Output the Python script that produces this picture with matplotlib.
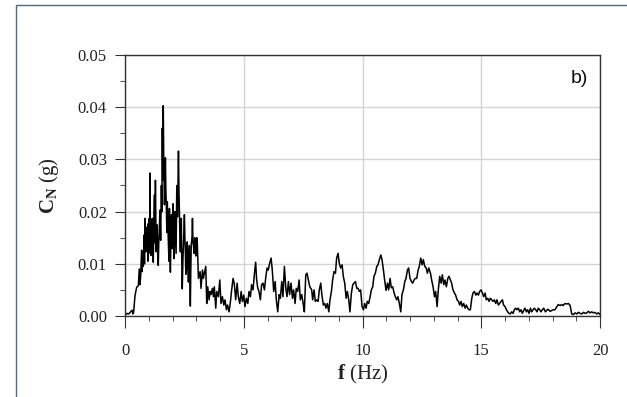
import matplotlib
matplotlib.use('Agg')
import matplotlib.pyplot as plt
import numpy as np
from matplotlib.ticker import MultipleLocator, FormatStrFormatter
from matplotlib.patches import Rectangle

plt.rcParams['font.family'] = 'Liberation Serif'
plt.rcParams['mathtext.fontset'] = 'custom'
plt.rcParams['mathtext.rm'] = 'Liberation Serif'
plt.rcParams['mathtext.bf'] = 'Liberation Serif:bold'
plt.rcParams['mathtext.it'] = 'Liberation Serif:italic'

# frequency (Hz) and Fourier amplitude (milli-g)
freq_hz = [
    0.00, 0.10, 0.15, 0.20, 0.25, 0.30, 0.33, 0.36, 0.42, 0.49,
    0.56, 0.60, 0.63, 0.66, 0.68, 0.70, 0.72, 0.74, 0.77, 0.80,
    0.82, 0.84, 0.86, 0.88, 0.91, 0.94, 0.96, 0.98, 1.00, 1.02,
    1.04, 1.05, 1.07, 1.09, 1.12, 1.15, 1.17, 1.19, 1.21, 1.24,
    1.26, 1.28, 1.30, 1.31, 1.34, 1.36, 1.38, 1.40, 1.42, 1.45,
    1.47, 1.50, 1.53, 1.55, 1.57, 1.59, 1.61, 1.63, 1.66, 1.68,
    1.70, 1.72, 1.74, 1.76, 1.78, 1.80, 1.82, 1.85, 1.87, 1.89,
    1.91, 1.93, 1.95, 1.97, 1.99, 2.02, 2.04, 2.06, 2.08, 2.10,
    2.12, 2.15, 2.18, 2.21, 2.25, 2.27, 2.29, 2.31, 2.33, 2.35,
    2.37, 2.39, 2.41, 2.44, 2.46, 2.48, 2.50, 2.52, 2.54, 2.56,
    2.58, 2.60, 2.62, 2.64, 2.67, 2.69, 2.71, 2.73, 2.75, 2.77,
    2.79, 2.82, 2.84, 2.86, 2.88, 2.91, 2.93, 2.95, 2.98, 3.00,
    3.02, 3.04, 3.06, 3.09, 3.16,
    3.20, 3.26, 3.30, 3.34, 3.40, 3.44, 3.48, 3.54, 3.58, 3.62,
    3.68, 3.72, 3.76, 3.82, 3.86, 3.93, 3.99, 4.04, 4.10, 4.16,
    4.21, 4.27, 4.32, 4.38, 4.43, 4.49, 4.55, 4.60, 4.66, 4.72,
    4.77, 4.83, 4.89, 4.94, 5.00, 5.05, 5.11, 5.17, 5.22, 5.28,
    5.33, 5.39, 5.45, 5.50, 5.54, 5.59, 5.64, 5.70, 5.75, 5.81,
    5.87, 5.92, 5.98, 6.03, 6.09, 6.15, 6.20, 6.26, 6.32, 6.37,
    6.43, 6.49, 6.54, 6.60, 6.65, 6.71, 6.77, 6.82, 6.88, 6.93,
    6.99, 7.05, 7.10, 7.16, 7.21, 7.27, 7.33, 7.38, 7.44, 7.50,
    7.55, 7.61, 7.66, 7.72, 7.78, 7.86, 7.90, 7.96, 8.01, 8.07,
    8.13, 8.18, 8.24, 8.29, 8.35, 8.41, 8.46, 8.52, 8.58, 8.63,
    8.69, 8.74, 8.80, 8.86, 8.91, 8.97, 9.02, 9.08, 9.14, 9.19,
    9.25, 9.31, 9.36, 9.42, 9.47, 9.53, 9.59, 9.64, 9.70, 9.76,
    9.81, 9.87, 9.92, 9.98, 10.04, 10.09, 10.15, 10.20, 10.26, 10.32,
    10.37, 10.43, 10.48, 10.54, 10.60, 10.65, 10.71, 10.77, 10.82, 10.88,
    10.93, 10.99, 11.05, 11.10, 11.16, 11.21, 11.27, 11.33, 11.38, 11.44,
    11.49, 11.55, 11.61, 11.66, 11.72, 11.78, 11.83, 11.89, 11.94, 12.00,
    12.06, 12.11, 12.17, 12.22, 12.28, 12.34, 12.39, 12.45, 12.51, 12.56,
    12.62, 12.68, 12.73, 12.79, 12.86, 12.91, 12.97, 13.03, 13.08, 13.14,
    13.19, 13.25, 13.31, 13.36, 13.42, 13.47, 13.53, 13.59, 13.64, 13.70,
    13.75, 13.81, 13.87, 13.92, 13.98, 14.04, 14.09, 14.15, 14.20, 14.26,
    14.32, 14.37, 14.43, 14.48, 14.54, 14.60, 14.65, 14.71, 14.77, 14.82,
    14.88, 14.93, 14.99, 15.05, 15.10, 15.16, 15.21, 15.27, 15.33, 15.38,
    15.44, 15.49, 15.55, 15.61, 15.66, 15.72, 15.77, 15.83, 15.89, 15.94,
    16.00, 16.06, 16.11, 16.17, 16.22, 16.28, 16.34, 16.39, 16.45, 16.50,
    16.56, 16.62, 16.67, 16.73, 16.78, 16.84, 16.90, 16.95, 17.01, 17.07,
    17.12, 17.18, 17.23, 17.29, 17.35, 17.40, 17.46, 17.51, 17.57, 17.63,
    17.70, 17.80, 17.90, 18.03, 18.10, 18.17, 18.24, 18.32, 18.38, 18.45,
    18.52, 18.60, 18.67, 18.74, 18.81, 18.88, 18.95, 19.02, 19.09, 19.16,
    19.23, 19.30, 19.37, 19.44, 19.51, 19.58, 19.65, 19.72, 19.79, 19.86,
    19.93, 20.00,
]
amp_mg = [
    0.2, 0.5, 0.4, 0.6, 0.9, 1.1, 0.4, 0.6, 3.9, 5.5,
    5.8, 9.0, 6.0, 7.7, 10.5, 12.6, 8.5, 11.0, 9.5, 15.5,
    10.0, 18.7, 14.0, 12.3, 17.0, 16.0, 10.5, 17.7, 12.0, 18.7,
    13.0, 27.4, 15.0, 11.6, 16.5, 18.7, 12.0, 10.3, 17.0, 23.2,
    14.0, 26.0, 18.0, 12.3, 17.5, 15.5, 11.0, 9.7, 14.0, 17.4,
    20.3, 14.5, 25.0, 20.0, 36.0, 26.0, 40.3, 30.0, 21.3, 25.0,
    30.3, 24.0, 21.3, 16.0, 21.9, 18.0, 14.8, 10.5, 20.6, 13.0,
    8.4, 14.0, 19.4, 16.0, 12.9, 21.5, 18.7, 11.0, 14.0, 20.0,
    17.0, 12.0, 25.0, 19.0, 31.6, 24.0, 20.0, 15.0, 12.3, 16.0,
    18.7, 10.0, 5.2, 11.0, 13.5, 16.5, 19.4, 15.0, 12.3, 8.0,
    11.6, 9.0, 14.2, 10.0, 6.5, 10.0, 13.5, 8.0, 1.9, 9.0,
    13.9, 15.0, 18.7, 14.0, 13.5, 12.0, 15.0, 14.8, 11.5, 12.5,
    15.0, 14.5, 11.4, 7.2, 8.5,
    5.3, 8.8, 7.2, 8.2, 9.5, 2.4, 5.6, 3.1, 4.7, 4.1,
    5.3, 3.7, 5.6, 1.5, 4.7, 3.7, 6.9, 2.4, 3.7, 2.1,
    3.1, 1.2, 2.1, 0.8, 2.4, 5.0, 7.2, 6.2, 3.1, 6.3,
    3.7, 2.4, 4.7, 2.8, 4.0, 1.8, 3.4, 2.4, 4.7, 3.7,
    6.0, 5.0, 8.2, 10.3, 7.0, 5.3, 4.7, 3.1, 6.0, 6.3,
    5.0, 7.2, 9.2, 8.8, 10.1, 11.1, 8.8, 4.7, 6.6, 3.1,
    0.8, 4.1, 3.4, 6.6, 3.7, 9.5, 5.3, 3.7, 6.6, 4.1,
    6.3, 3.4, 5.0, 2.4, 5.3, 4.7, 6.9, 3.1, 4.1, 2.4,
    0.8, 7.9, 8.2, 6.9, 5.6, 5.0, 3.1, 5.0, 2.8, 3.1,
    2.8, 5.0, 6.3, 4.0, 2.1, 2.4, 1.5, 2.4, 0.8, 3.1,
    4.7, 6.9, 8.5, 8.2, 11.1, 12.0, 10.1, 9.2, 9.8, 7.6,
    6.3, 3.4, 4.7, 3.1, 0.8, 4.4, 6.0, 6.3, 6.6, 5.3,
    5.3, 4.7, 5.0, 1.8, 1.2, 2.4, 1.5, 2.8, 2.4, 3.7,
    5.0, 5.6, 7.6, 8.2, 9.5, 9.8, 10.8, 11.7, 10.8, 8.8,
    6.9, 4.9, 6.3, 5.0, 7.2, 5.4, 5.6, 4.4, 3.7, 3.1,
    3.7, 2.4, 0.8, 4.1, 5.0, 6.6, 7.2, 8.8, 9.2, 7.2,
    6.6, 6.3, 6.9, 7.2, 7.2, 8.8, 9.5, 11.1, 9.8, 10.8,
    9.5, 9.2, 8.2, 9.2, 8.2, 6.9, 5.6, 3.7, 4.7, 1.8,
    5.0, 7.6, 6.3, 7.9, 6.0, 6.9, 5.6, 7.2, 7.6, 6.9,
    6.3, 5.0, 4.4, 4.0, 3.1, 2.8, 2.1, 2.8, 1.8, 2.4,
    1.5, 2.1, 1.5, 1.2, 1.2, 3.4, 4.4, 4.7, 4.0, 4.4,
    4.0, 4.7, 5.0, 4.4, 3.7, 4.4, 3.1, 3.4, 2.8, 3.4,
    3.1, 2.8, 3.1, 2.4, 3.1, 2.1, 2.4, 2.8, 3.1, 2.1,
    1.8, 1.2, 0.8, 0.5, 0.4, 0.8, 0.5, 1.2, 1.5, 1.2,
    1.5, 0.8, 1.2, 0.5, 1.0, 1.5, 0.8, 1.2, 0.5, 1.5,
    0.8, 1.2, 1.5, 1.2, 0.8, 1.5, 1.2, 0.8, 1.2, 1.5,
    0.8, 1.3, 0.9, 1.2, 1.2, 1.7, 2.2, 2.0, 2.2, 2.0,
    2.4, 2.3, 2.4, 2.0, 0.4, 0.3, 0.6, 0.4, 0.7, 0.5,
    0.4, 0.7, 0.5, 0.6, 0.9, 0.6, 0.8, 0.6, 0.7, 0.4,
    0.6, 0.3,
]
amp_g = np.array(amp_mg) / 1000.0

xticks = [0, 5, 10, 15, 20]
yticks = [0.00, 0.01, 0.02, 0.03, 0.04, 0.05]

fig = plt.figure(figsize=(6.27, 3.97), dpi=100)
ax = fig.add_axes((0.1994, 0.204, 0.7576, 0.6575))

ax.plot(freq_hz, amp_g, color='black', lw=1.1)

ax.set_xlim(0, 20)
ax.set_ylim(0, 0.05)
ax.set_xticks(xticks)
ax.set_yticks(yticks)
ax.xaxis.set_minor_locator(MultipleLocator(1))
ax.yaxis.set_minor_locator(MultipleLocator(0.005))
ax.yaxis.set_major_formatter(FormatStrFormatter('%.2f'))
ax.grid(True, which='major', color='#d4d4d4', lw=1.0)
ax.set_axisbelow(True)

for s in ax.spines.values():
    s.set_color('#333333')
    s.set_linewidth(1.0)

ax.tick_params(axis='both', which='major', direction='out', color='#333333',
               labelsize=12, labelcolor='#222222')
ax.tick_params(axis='x', which='major', length=8.5, pad=11)
ax.tick_params(axis='y', which='major', length=7, pad=6)
ax.tick_params(axis='both', which='minor', direction='out', length=3.5, color='#333333')

ax.set_xlabel(r'$\mathbf{f}$ (Hz)', fontsize=15, color='#222222', labelpad=3)
ax.set_ylabel(r'$\mathbf{C_N}$ (g)', fontsize=15, color='#222222', labelpad=12)

ax.text(0.975, 0.91, 'b)', transform=ax.transAxes, ha='right', va='center',
        fontsize=14, family='Liberation Sans', color='#111111')

# thin frame around the figure (only top and left visible)
fig.patches.append(Rectangle((16 / 627, -0.2), 1.2, 1.2 - 5 / 397,
                             transform=fig.transFigure, fill=False,
                             edgecolor='#4d6a85', lw=1.0))

plt.savefig('out.png', dpi=100)
plt.close(fig)
